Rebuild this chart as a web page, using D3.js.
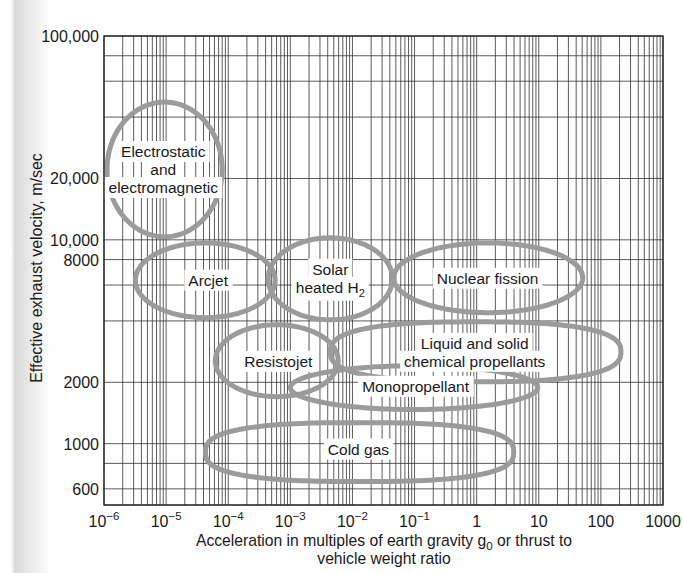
<!DOCTYPE html>
<html>
<head>
<meta charset="utf-8">
<script src="https://cdn.jsdelivr.net/npm/d3@7"></script>
<style>
body { margin: 0; background: #fff; }
svg text { font-family: "Liberation Sans", Arial, Helvetica, sans-serif; fill: #1a1a1a; }
</style>
</head>
<body>
<div id="plot"></div>
<script>
// axes
let xDomain = [1e-6, 1000]
let yDomain = [500, 100000]
let xTickValues = [1e-6, 1e-5, 1e-4, 1e-3, 1e-2, 1e-1, 1, 10, 100, 1000]
let xTickBase = ['10', '10', '10', '10', '10', '10', '1', '10', '100', '1000']
let xTickSup = ['\u22126', '\u22125', '\u22124', '\u22123', '\u22122', '\u22121', '', '', '', '']
let yGridValues = [500, 600, 800, 1000, 2000, 4000, 6000, 8000, 10000, 20000, 40000, 60000, 80000, 100000]
let yTickValues = [600, 1000, 2000, 8000, 10000, 20000, 100000]
let yTickText = ['600', '1000', '2000', '8000', '10,000', '20,000', '100,000']

// propulsion regions (acceleration in g0, exhaust velocity in m/s)
let regionNames = ['Electrostatic', 'Arcjet', 'Solar', 'Nuclear', 'Resistojet', 'Chemical', 'Monoprop', 'Cold gas']
let regionXMin = [1.12e-6, 3.2e-6, 4.4e-4, 0.046, 6.2e-5, 4.4e-3, 1.0e-3, 4.3e-5]
let regionXMax = [8.0e-5, 5.7e-4, 0.044, 51, 5.9e-3, 210, 9.6, 3.95]
let regionVMin = [10350, 4150, 4050, 4390, 1700, 2010, 1470, 652]
let regionVMax = [47400, 9660, 10230, 9660, 3830, 3960, 2410, 1268]
let regionRound = [2, 2, 2, 2, 2, 2.6, 2, 2.7]

// region labels
let labelLines = [
  ['Electrostatic', 'and', 'electromagnetic'],
  ['Arcjet'],
  ['Solar', 'heated H|2'],
  ['Nuclear fission'],
  ['Resistojet'],
  ['Liquid and solid', 'chemical propellants'],
  ['Monopropellant'],
  ['Cold gas']
]
let labelX = [9e-6, 4.75e-5, 4.4e-3, 1.5, 6.4e-4, 0.93, 0.104, 0.0125]
let labelV = [22000, 6300, 6440, 6440, 2520, 2790, 1900, 935]

let width = 683, height = 573
let svg = d3.select('#plot').append('svg')
.attr('width', width)
.attr('height', height)

// scanned page shadow on the left
let grad = svg.append('defs').append('linearGradient')
.attr('id', 'shade')
grad.append('stop').attr('offset', '0').attr('stop-color', '#fff')
grad.append('stop').attr('offset', '0.22').attr('stop-color', '#fff')
grad.append('stop').attr('offset', '0.3').attr('stop-color', '#d9d9d9')
grad.append('stop').attr('offset', '1').attr('stop-color', '#fff')
svg.append('rect')
.attr('x', 0).attr('y', 0)
.attr('width', 50).attr('height', height)
.attr('fill', 'url(#shade)')

let x = d3.scaleLog().domain(xDomain).range([104, 663])
let y = d3.scaleLog().domain(yDomain).range([505, 36])

// grid
let grid = svg.append('g')
.attr('stroke', '#333')
.attr('stroke-width', 0.8)

grid.selectAll('.vline').data(x.ticks(60)).enter()
.append('line')
.attr('x1', d => x(d)).attr('x2', d => x(d))
.attr('y1', y(yDomain[1])).attr('y2', y(yDomain[0]))

grid.selectAll('.hline').data(yGridValues).enter()
.append('line')
.attr('x1', x(xDomain[0])).attr('x2', x(xDomain[1]))
.attr('y1', d => y(d)).attr('y2', d => y(d))

// regions drawn as (super)ellipses
function blobPath(i) {
  let x0 = x(regionXMin[i]), x1 = x(regionXMax[i])
  let y0 = y(regionVMax[i]), y1 = y(regionVMin[i])
  let cx = (x0 + x1) / 2, cy = (y0 + y1) / 2
  let rx = (x1 - x0) / 2, ry = (y1 - y0) / 2
  let p = 2 / regionRound[i]
  let pts = d3.range(0, 2 * Math.PI, Math.PI / 90).map(t => {
    let c = Math.cos(t), s = Math.sin(t)
    return [cx + rx * Math.sign(c) * Math.pow(Math.abs(c), p),
            cy + ry * Math.sign(s) * Math.pow(Math.abs(s), p)]
  })
  return d3.line().curve(d3.curveLinearClosed)(pts)
}

svg.append('g').selectAll('path').data(regionNames).enter()
.append('path')
.attr('d', (d, i) => blobPath(i))
.attr('fill', 'none')
.attr('stroke', '#9b9b9b')
.attr('stroke-width', 5)

// labels with white boxes
let lineH = 18
labelLines.forEach((lines, i) => {
  let g = svg.append('g')
  let cx = x(labelX[i]), cy = y(labelV[i])
  let top = cy - (lines.length - 1) * lineH / 2
  let texts = lines.map((ln, k) => {
    let parts = ln.split('|')
    let t = g.append('text')
    .attr('x', cx)
    .attr('y', top + k * lineH + 5)
    .attr('text-anchor', 'middle')
    .style('font-size', '15.5px')
    t.append('tspan').text(parts[0])
    if (parts[1]) {
      t.append('tspan').attr('dy', 4).style('font-size', '11px').text(parts[1])
    }
    return t
  })
  texts.forEach(t => {
    let b = t.node().getBBox()
    g.insert('rect', 'text')
    .attr('x', b.x - 4).attr('y', b.y - 2)
    .attr('width', b.width + 8).attr('height', b.height + 4)
    .attr('fill', '#fff')
  })
})

// frame
svg.append('rect')
.attr('x', x(xDomain[0])).attr('y', y(yDomain[1]))
.attr('width', x(xDomain[1]) - x(xDomain[0]))
.attr('height', y(yDomain[0]) - y(yDomain[1]))
.attr('fill', 'none')
.attr('stroke', '#222')
.attr('stroke-width', 1.3)

// y tick labels
svg.selectAll('.ytick').data(yTickValues).enter()
.append('text')
.attr('x', 99)
.attr('y', d => y(d) + 6)
.attr('text-anchor', 'end')
.style('font-size', '16px')
.text((d, i) => yTickText[i])

// x tick labels
xTickValues.forEach((v, i) => {
  let t = svg.append('text')
  .attr('x', x(v))
  .attr('y', 527)
  .attr('text-anchor', 'middle')
  .style('font-size', '16px')
  t.append('tspan').text(xTickBase[i])
  if (xTickSup[i]) {
    t.append('tspan').attr('dy', -7).style('font-size', '11.5px').text(xTickSup[i])
  }
})

// axis titles
svg.append('text')
.attr('transform', 'translate(42,268) rotate(-90)')
.attr('text-anchor', 'middle')
.style('font-size', '16px')
.text('Effective exhaust velocity, m/sec')

let xt = svg.append('text')
.attr('x', 384)
.attr('y', 546)
.attr('text-anchor', 'middle')
.style('font-size', '15.7px')
xt.append('tspan').text('Acceleration in multiples of earth gravity g')
xt.append('tspan').attr('dy', 4).style('font-size', '11.5px').text('0')
xt.append('tspan').attr('dy', -4).text(' or thrust to')

svg.append('text')
.attr('x', 384)
.attr('y', 564)
.attr('text-anchor', 'middle')
.style('font-size', '15.7px')
.text('vehicle weight ratio')
</script>
</body>
</html>
